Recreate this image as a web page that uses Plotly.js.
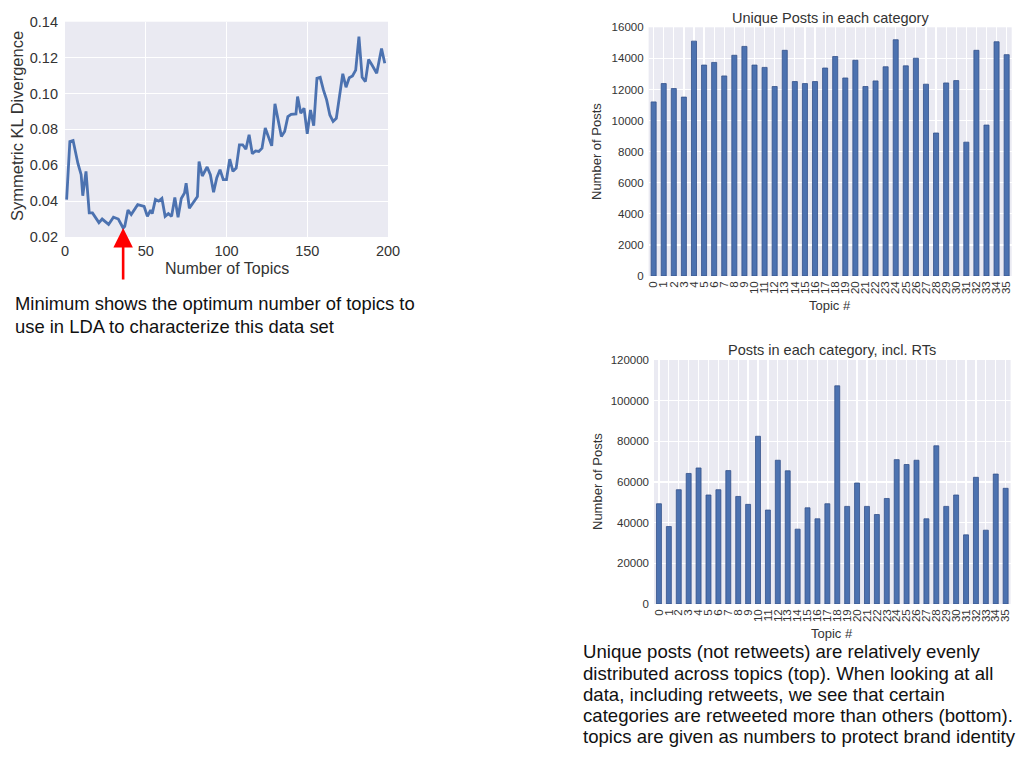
<!DOCTYPE html>
<html>
<head>
<meta charset="utf-8">
<script src="https://cdn.plot.ly/plotly-3.0.1.min.js"></script>
<style>
html,body{margin:0;padding:0;background:#fff;}
#chart{width:1024px;height:769px;}
</style>
</head>
<body>
<div id="chart"></div>
<script>
// ---- Line chart: symmetric KL divergence vs number of topics ----
const numTopics = [1,3,5,8,10,11,13,15,17,21,23,27,30,33,36,37,39,41,45,49,51,53,54,56,58,60,62,64,66,68,70,72,74,75,77,80,82,83,85,88,90,92,94,96,98,100,102,104,106,108,110,112,114,116,118,120,122,124,126,128,130,132,134,136,138,140,143,144,146,148,150,152,154,156,158,160,162,164,166,168,170,172,174,176,178,180,182,184,186,188,190,193,196,198];
const klDivergence = [0.0408,0.0732,0.0738,0.061,0.0547,0.043,0.0566,0.0334,0.0334,0.028,0.030,0.027,0.031,0.030,0.025,0.026,0.035,0.0325,0.038,0.037,0.0315,0.035,0.033,0.041,0.040,0.0415,0.0315,0.033,0.0315,0.042,0.031,0.0415,0.0445,0.050,0.036,0.040,0.0425,0.062,0.054,0.059,0.0547,0.045,0.053,0.0575,0.052,0.052,0.0634,0.0566,0.0584,0.0714,0.0714,0.069,0.077,0.0664,0.068,0.0677,0.0695,0.0807,0.076,0.0708,0.0942,0.0853,0.076,0.0788,0.0871,0.0884,0.0886,0.0983,0.089,0.0918,0.0775,0.0908,0.082,0.1085,0.109,0.102,0.0964,0.088,0.0844,0.0862,0.0983,0.111,0.1035,0.1088,0.1098,0.113,0.1317,0.109,0.1066,0.119,0.116,0.1113,0.125,0.1168];
const lineXTicks = [0,50,100,150,200];
const lineYTicks = [0.02,0.04,0.06,0.08,0.10,0.12,0.14];
const lineYTickText = ['0.02','0.04','0.06','0.08','0.10','0.12','0.14'];
const minimumTopic = 36;
const minimumValue = 0.025;

// ---- Bar charts ----
const topicLabels = ['0','1','2','3','4','5','6','7','8','9','10','11','12','13','14','15','16','17','18','19','20','21','22','23','24','25','26','27','28','29','30','31','32','33','34','35'];
const uniquePosts = [11200,12380,12060,11510,15110,13570,13740,12870,14200,14770,13570,13420,12190,14520,12510,12380,12510,13380,14120,12740,13880,12190,12550,13460,15200,13520,14010,12340,9200,12420,12570,8610,14520,9710,15070,14240];
const allPosts = [49300,38100,56200,64200,66900,53600,56200,65600,52900,49000,82500,46200,70700,65500,36800,47300,41900,49300,107300,48000,59500,48000,44000,51900,71000,68600,70700,41900,77800,48000,53600,34000,62300,36300,63900,56900];
const topYTicks = [0,2000,4000,6000,8000,10000,12000,14000,16000];
const bottomYTicks = [0,20000,40000,60000,80000,100000,120000];

const titles = {
  lineX: 'Number of Topics',
  lineY: 'Symmetric KL Divergence',
  top: 'Unique Posts in each category',
  bottom: 'Posts in each category, incl. RTs',
  barY: 'Number of Posts',
  barX: 'Topic #'
};
const leftNote = ['Minimum shows the optimum number of topics to', 'use in LDA to characterize this data set'];
const rightNote = [
  'Unique posts (not retweets) are relatively evenly',
  'distributed across topics (top). When looking at all',
  'data, including retweets, we see that certain',
  'categories are retweeted more than others (bottom).',
  'topics are given as numbers to protect brand identity'
];

// ---- layout helpers ----
const W = 1024, H = 769;
const px = v => v / W;
const py = v => 1 - v / H;
const FONT = '"Liberation Sans", Arial, Helvetica, sans-serif';
const TXT = '#333333';
const BG = '#EAEAF2';
const BLUE = '#4C72B0';

const traces = [
  {type:'scatter', mode:'lines', x:numTopics, y:klDivergence, xaxis:'x', yaxis:'y',
   line:{color:BLUE, width:2.8}, hoverinfo:'x+y'},
  {type:'bar', x:topicLabels, y:uniquePosts, xaxis:'x2', yaxis:'y2', width:0.5,
   marker:{color:BLUE, line:{color:'#34518a', width:0.8}}},
  {type:'bar', x:topicLabels, y:allPosts, xaxis:'x3', yaxis:'y3', width:0.5,
   marker:{color:BLUE, line:{color:'#34518a', width:0.8}}}
];

const gridAxis = {
  showgrid:true, gridcolor:'#ffffff', gridwidth:1.2, zeroline:false, showline:false,
  ticks:'', fixedrange:true
};

const layout = {
  width:W, height:H, margin:{l:0,r:0,t:0,b:0}, showlegend:false,
  paper_bgcolor:'#ffffff', plot_bgcolor:BG,
  font:{family:FONT, color:TXT},
  bargap:0.5,
  xaxis: Object.assign({}, gridAxis, {domain:[px(65), px(388)], anchor:'y', range:[0,200],
    tickvals:lineXTicks, ticktext:lineXTicks.map(String), tickfont:{size:14.5, color:TXT}, ticklabelstandoff:3}),
  yaxis: Object.assign({}, gridAxis, {domain:[py(237), py(21.7)], anchor:'x', range:[0.02,0.14],
    tickvals:lineYTicks, ticktext:lineYTickText, tickfont:{size:14.5, color:TXT}, ticklabelstandoff:6}),
  xaxis2: Object.assign({}, gridAxis, {domain:[px(648.6), px(1011.7)], anchor:'y2', type:'category',
    range:[-0.5,35.5], tickmode:'array', tickvals:topicLabels, ticktext:topicLabels,
    tickangle:-90, tickfont:{size:11.5, color:TXT}, ticklabelstandoff:2}),
  yaxis2: Object.assign({}, gridAxis, {domain:[py(276), py(27.3)], anchor:'x2', range:[0,16000],
    tickvals:topYTicks, ticktext:topYTicks.map(String), tickfont:{size:11.5, color:TXT}, ticklabelstandoff:4}),
  xaxis3: Object.assign({}, gridAxis, {domain:[px(654), px(1010.6)], anchor:'y3', type:'category',
    range:[-0.5,35.5], tickmode:'array', tickvals:topicLabels, ticktext:topicLabels,
    tickangle:-90, tickfont:{size:11.5, color:TXT}, ticklabelstandoff:2}),
  yaxis3: Object.assign({}, gridAxis, {domain:[py(604), py(360)], anchor:'x3', range:[0,120000],
    tickvals:bottomYTicks, ticktext:bottomYTicks.map(String), tickfont:{size:11.5, color:TXT}, ticklabelstandoff:4}),
  annotations: []
};

const ann = layout.annotations;
function label(text, x, y, size, opts) {
  ann.push(Object.assign({text:text, xref:'paper', yref:'paper', x:px(x), y:py(y), showarrow:false,
    xanchor:'center', yanchor:'middle', font:{family:FONT, size:size, color:TXT}}, opts || {}));
}
// line chart titles
label(titles.lineX, 226.5, 268, 16);
label(titles.lineY, 17, 126, 16.5, {textangle:-90});
// bar chart titles
label(titles.top, 830, 18.5, 14.5);
label(titles.barY, 597, 152, 13, {textangle:-90});
label(titles.barX, 830, 305, 13);
label(titles.bottom, 832, 350, 14.5);
label(titles.barY, 597, 482, 13, {textangle:-90});
label(titles.barX, 832, 633, 13);

// notes
leftNote.forEach((t, i) => label(t, 13, 303 + i * 23, 18.4, {xanchor:'left', font:{family:FONT, size:18.4, color:'#111'}}));
rightNote.forEach((t, i) => label(t, 581, 651.7 + i * 21.3, 18.6, {xanchor:'left', font:{family:FONT, size:18.6, color:'#111'}}));

// red arrow pointing at the minimum
ann.push({xref:'x', yref:'y', x:minimumTopic, y:minimumValue, text:'', showarrow:true,
  ax:0, ay:53, axref:'pixel', ayref:'pixel', arrowhead:2, arrowsize:1.5, arrowwidth:2.6,
  arrowcolor:'#FF0000', standoff:0});

Plotly.newPlot('chart', traces, layout, {displayModeBar:false, staticPlot:true});
</script>
</body>
</html>
